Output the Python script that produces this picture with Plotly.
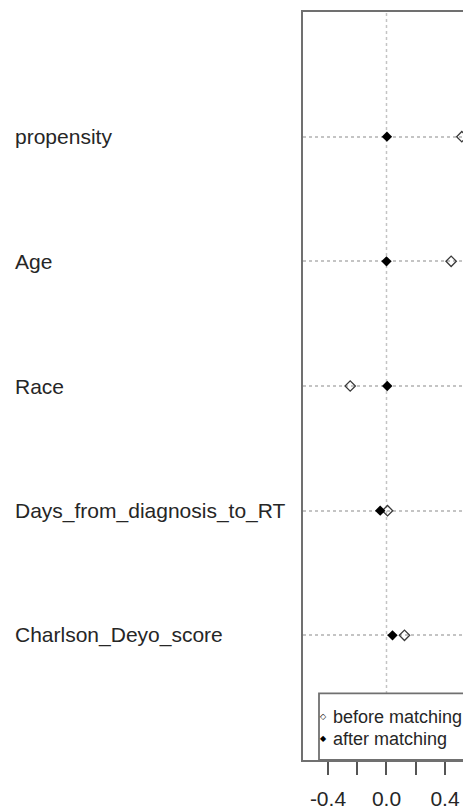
import plotly.graph_objects as go

# ---- data ----
variables = ["Charlson_Deyo_score", "Days_from_diagnosis_to_RT", "Race", "Age", "propensity"]
positions = [1, 2, 3, 4, 5]
before_matching = [0.123, 0.007, -0.248, 0.442, 0.515]
after_matching = [0.041, -0.043, 0.005, 0.0, 0.003]
tick_vals = [-0.4, -0.2, 0.0, 0.2, 0.4]
tick_text = ["-0.4", "", "0.0", "", "0.4"]
legend_labels = ["before matching", "after matching"]

FONT = "Liberation Sans, Arial, sans-serif"
TXT = "#262626"

fig = go.Figure()
fig.add_trace(go.Scatter(
    x=before_matching, y=positions, mode="markers", name=legend_labels[0],
    marker=dict(symbol="diamond-open", size=8, color="#3a3a3a", line=dict(width=1.3)),
    showlegend=False, cliponaxis=False))
fig.add_trace(go.Scatter(
    x=after_matching, y=positions, mode="markers", name=legend_labels[1],
    marker=dict(symbol="diamond", size=8, color="#000000"),
    showlegend=False, cliponaxis=False))

# vertical dotted reference at 0
fig.add_shape(type="line", xref="x", yref="paper", x0=0, x1=0, y0=0, y1=1,
              line=dict(color="#c4c4c4", width=1.5, dash="dot"), layer="below")

# legend box
fig.add_shape(type="rect", xref="paper", yref="paper", x0=0.1, x1=1.2, y0=0, y1=0.089,
              line=dict(color="#707070", width=1.8), fillcolor="white", layer="above")

annotations = []
for lab, pos in zip(variables, positions):
    annotations.append(dict(text=lab, x=-1.81, xref="paper", y=pos, yref="y",
                            xanchor="left", yanchor="middle", showarrow=False,
                            font=dict(family=FONT, size=21, color=TXT)))
# legend entries
leg_y = [0.058, 0.0285]
for sym, lab, yy in zip(["◇", "◆"], legend_labels, leg_y):
    annotations.append(dict(text=sym, x=0.125, xref="paper", y=yy, yref="paper",
                            xanchor="center", yanchor="middle", showarrow=False,
                            font=dict(family="DejaVu Sans", size=8, color="#000")))
    annotations.append(dict(text=lab, x=0.172, xref="paper", y=yy, yref="paper",
                            xanchor="left", yanchor="middle", showarrow=False,
                            font=dict(family=FONT, size=18, color=TXT)))

fig.update_layout(
    width=463, height=810,
    margin=dict(l=303, r=0, t=12, b=50),
    paper_bgcolor="white", plot_bgcolor="white",
    annotations=annotations,
    xaxis=dict(range=[-0.5707, 0.523], tickvals=tick_vals, ticktext=tick_text,
               ticks="outside", ticklen=13, tickwidth=1.5, tickcolor="#555",
               showline=True, mirror=True, linecolor="#707070", linewidth=1.8,
               showgrid=False, zeroline=False, ticklabelstandoff=6,
               tickfont=dict(family=FONT, size=21, color=TXT)),
    yaxis=dict(range=[0, 6], tickvals=positions, showticklabels=False, ticks="",
               showline=True, mirror=False, linecolor="#707070", linewidth=1.8,
               showgrid=True, gridcolor="#c4c4c4", gridwidth=1.5, griddash="dot",
               zeroline=False),
)

fig.write_html(
    "out.html",
    config={"displayModeBar": False},
    post_script="document.body.style.margin='0';document.body.style.overflow='hidden';",
)
